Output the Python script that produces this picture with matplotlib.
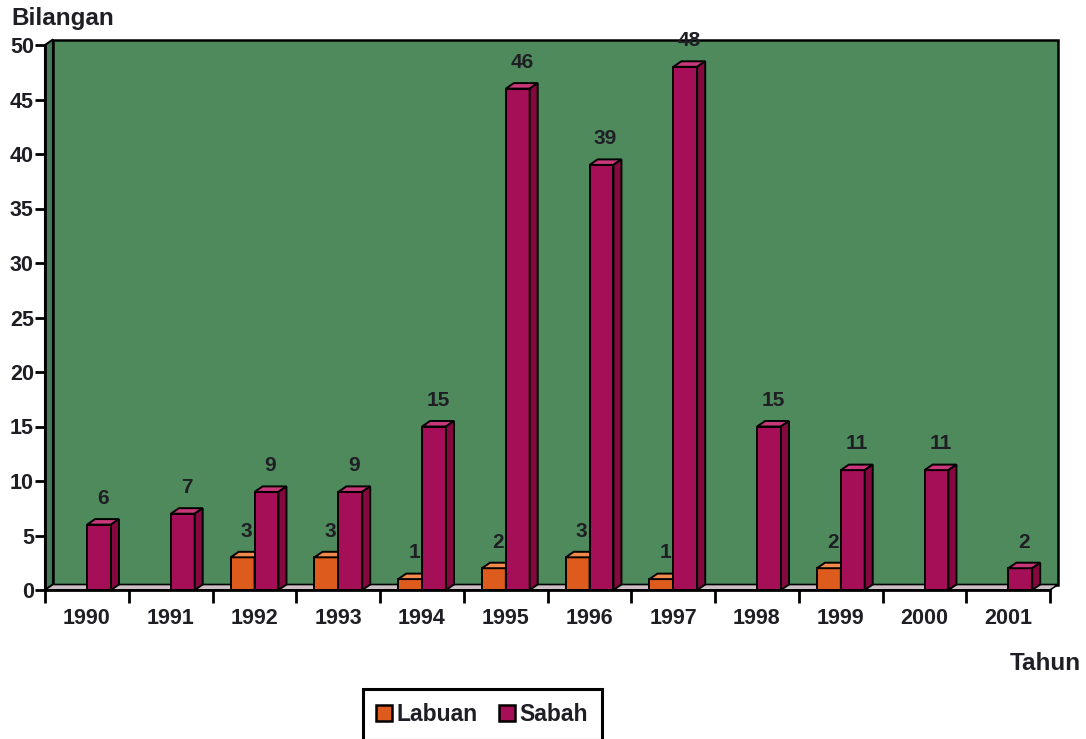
import matplotlib
matplotlib.use("Agg")
import matplotlib.pyplot as plt
from matplotlib.patches import Polygon, Patch

years = ["1990", "1991", "1992", "1993", "1994", "1995", "1996", "1997", "1998", "1999", "2000", "2001"]
labuan = [0, 0, 3, 3, 1, 2, 3, 1, 0, 2, 0, 0]
sabah = [6, 7, 9, 9, 15, 46, 39, 48, 15, 11, 11, 2]
yticks = [0, 5, 10, 15, 20, 25, 30, 35, 40, 45, 50]

FONT = ["Liberation Sans", "DejaVu Sans"]
TXT = "#1e1e24"

green = "#4f8a5d"
floor_c = "#cbbfc5"
lab_c = ("#de5b1e", "#f28a4e", "#b04610")
sab_c = ("#a50f57", "#c8387a", "#85093f")

fig = plt.figure(figsize=(10.86, 7.39), dpi=100)
L, R, B, T = 45, 1050, 590, 45
W, H = 1086, 739
ax = fig.add_axes([L / W, 1 - B / H, (R - L) / W, (B - T) / H])
n = len(years)
ax.set_xlim(-0.5, n - 0.5)
ax.set_ylim(0, 50)
ax.patch.set_visible(False)

# depth offset in data units
px_x = n / (R - L)
px_y = 50 / (B - T)
dx = 8 * px_x
dy = 5.5 * px_y

x0, x1 = -0.5, n - 0.5
ax.add_patch(Polygon([(x0 + dx, dy), (x1 + dx, dy), (x1 + dx, 50 + dy), (x0 + dx, 50 + dy)],
                     closed=True, fc=green, ec="black", lw=1.8, clip_on=False, zorder=0))
ax.add_patch(Polygon([(x0, 0), (x0 + dx, dy), (x0 + dx, 50 + dy), (x0, 50)],
                     closed=True, fc="#44795a", ec="black", lw=1.5, clip_on=False, zorder=0.5))
ax.add_patch(Polygon([(x0, 0), (x1, 0), (x1 + dx, dy), (x0 + dx, dy)],
                     closed=True, fc=floor_c, ec="black", lw=1.2, clip_on=False, zorder=0.6))

bw = 0.285
offs = (-0.14, 0.145)


def bar3d(xc, v, cols):
    if v <= 0:
        return
    ax.bar(xc, v, width=bw, bottom=0, color=cols[0], edgecolor="black", linewidth=1.4, zorder=3)
    xl, xr = xc - bw / 2, xc + bw / 2
    ax.add_patch(Polygon([(xl, v), (xr, v), (xr + dx, v + dy), (xl + dx, v + dy)], closed=True,
                         fc=cols[1], ec="black", lw=1.4, zorder=3, clip_on=False))
    ax.add_patch(Polygon([(xr, 0), (xr + dx, dy), (xr + dx, v + dy), (xr, v)], closed=True,
                         fc=cols[2], ec="black", lw=1.4, zorder=3, clip_on=False))
    ax.annotate(str(v), (xc + dx / 2, v + dy), xytext=(0, 8), textcoords="offset points",
                ha="center", va="bottom", fontsize=15, fontweight="bold", color=TXT, family=FONT,
                annotation_clip=False, zorder=5)


for i in range(n):
    bar3d(i + offs[0], labuan[i], lab_c)
    bar3d(i + offs[1], sabah[i], sab_c)

for s in ("top", "right"):
    ax.spines[s].set_visible(False)
for s in ("left", "bottom"):
    ax.spines[s].set_linewidth(2)
    ax.spines[s].set_zorder(6)

ax.set_yticks(yticks)
ax.set_yticklabels([str(t) for t in yticks], family=FONT, fontsize=15.5, fontweight="bold", color=TXT)
ax.tick_params(axis="y", length=7, width=2, pad=1)

ax.set_xticks(list(range(n)))
ax.set_xticklabels(years, family=FONT, fontsize=15.5, fontweight="bold", color=TXT)
ax.tick_params(axis="x", length=0, pad=13)
ax.set_xticks([i - 0.5 for i in range(n + 1)], minor=True)
ax.tick_params(axis="x", which="minor", length=9, width=2)

fig.text(11 / W, 1 - 19 / H, "Bilangan", family=FONT, fontsize=17.5, fontweight="bold",
         color=TXT, ha="left", va="center")
fig.text(1081 / W, 1 - 663 / H, "Tahun", family=FONT, fontsize=17.5, fontweight="bold",
         color=TXT, ha="right", va="center")

handles = [Patch(fc=lab_c[0], ec="black", lw=1.8, label="Labuan"),
           Patch(fc=sab_c[0], ec="black", lw=1.8, label="Sabah")]
leg = fig.legend(handles=handles, loc="upper center", bbox_to_anchor=(482 / W, 1 - 689 / H),
                 ncol=2, frameon=True, fancybox=False, edgecolor="black", framealpha=1,
                 prop={"family": FONT, "size": 16.5, "weight": "bold"},
                 handlelength=0.7, handleheight=0.7, handletextpad=0.2, columnspacing=0.9,
                 borderpad=0.6, borderaxespad=0)
leg.get_frame().set_linewidth(2.2)
for t in leg.get_texts():
    t.set_color(TXT)

fig.savefig("out.png", dpi=100, facecolor="white")
